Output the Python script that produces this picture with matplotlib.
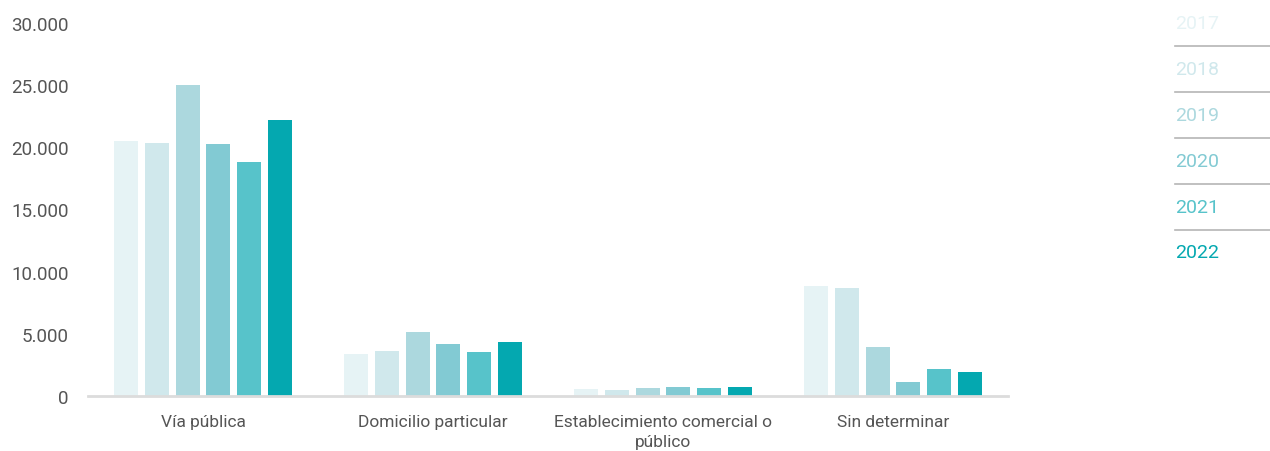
import matplotlib.pyplot as plt
import numpy as np
from matplotlib.lines import Line2D
from matplotlib.ticker import FuncFormatter

plt.rcParams["font.family"] = ["Roboto", "DejaVu Sans"]

categories = [
    "Vía pública",
    "Domicilio particular",
    "Establecimiento comercial o\npúblico",
    "Sin determinar",
]
years = ["2017", "2018", "2019", "2020", "2021", "2022"]
values = {
    "2017": [20500, 3380, 560, 8830],
    "2018": [20350, 3620, 480, 8690],
    "2019": [25000, 5150, 670, 3940],
    "2020": [20270, 4180, 750, 1150],
    "2021": [18800, 3540, 620, 2140],
    "2022": [22200, 4340, 700, 1910],
}
colors = ["#e6f3f5", "#d0e8ec", "#acd8de", "#82cad3", "#57c3ca", "#04a8b0"]
y_ticks = [0, 5000, 10000, 15000, 20000, 25000, 30000]

fig = plt.figure(figsize=(12.7, 4.52), dpi=100)
ax = fig.add_axes([88 / 1270, 1 - 397 / 452, 920 / 1270, (397 - 24) / 452])

x = np.arange(len(categories))
step = 0.1335
width = 0.105
for i, year in enumerate(years):
    ax.bar(x + (i - 2.5) * step, values[year], width=width, color=colors[i], zorder=2)

ax.set_xlim(-0.5, len(categories) - 0.5)
ax.set_ylim(0, 30000)
ax.set_yticks(y_ticks)
ax.yaxis.set_major_formatter(FuncFormatter(lambda v, _: f"{int(v):,}".replace(",", ".")))
ax.set_xticks(x)
ax.set_xticklabels(categories, linespacing=1.4)

for side in ["top", "right", "left"]:
    ax.spines[side].set_visible(False)
ax.spines["bottom"].set_color("#dcdcdc")
ax.spines["bottom"].set_linewidth(2)
ax.tick_params(axis="both", length=0, labelcolor="#555555")
ax.tick_params(axis="y", pad=14, labelsize=13.5)
ax.tick_params(axis="x", pad=13, labelsize=12.5)

# legend on the right, text in series colour with grey separators
leg_y = [24, 70, 116, 162, 208, 253]
for i, year in enumerate(years):
    fig.text(1175 / 1270, 1 - leg_y[i] / 452, year, color=colors[i],
             fontsize=14, va="center", ha="left")
    if i < len(years) - 1:
        sep = 1 - (leg_y[i] + 23) / 452
        fig.add_artist(Line2D([1175 / 1270, 1.0], [sep, sep],
                              color="#b5b5b5", linewidth=1.2,
                              transform=fig.transFigure))

fig.savefig("out.png", dpi=100)
